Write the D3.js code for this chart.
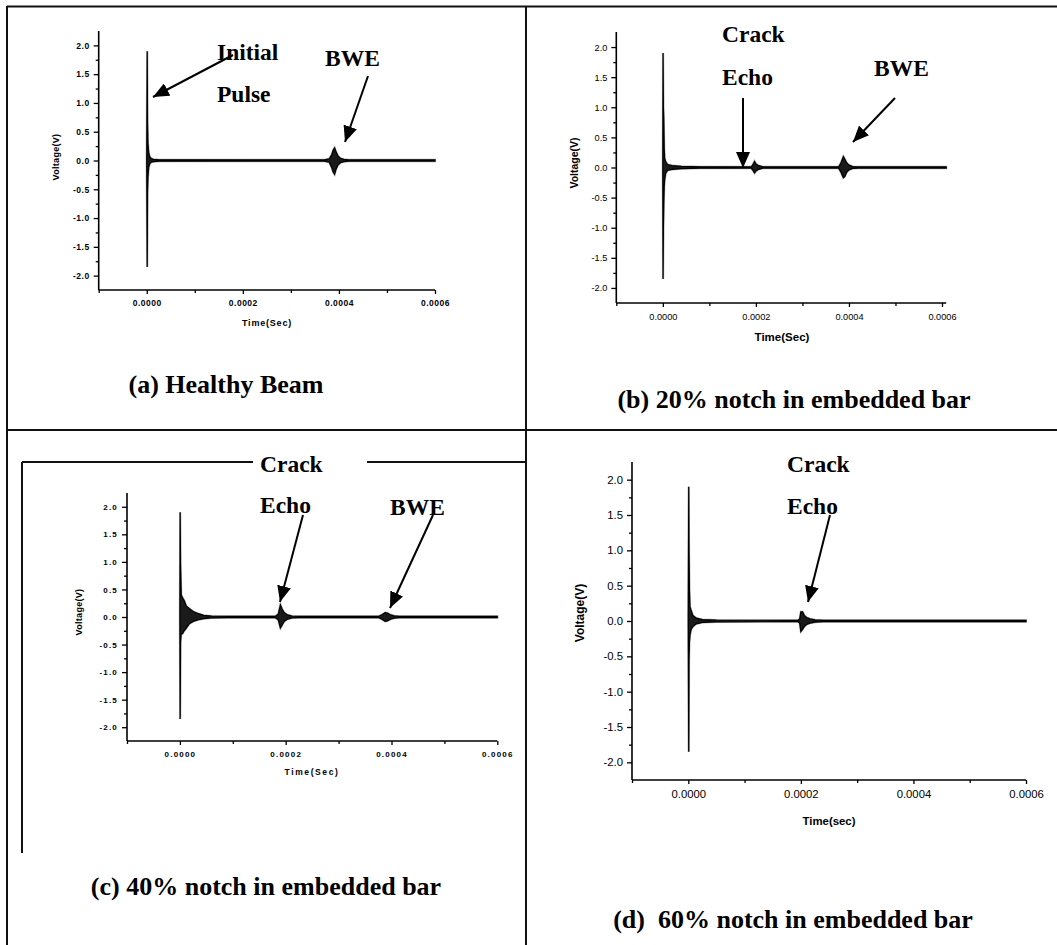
<!DOCTYPE html>
<html>
<head>
<meta charset="utf-8">
<script src="https://cdn.jsdelivr.net/npm/d3@7"></script>
<style>
body { margin: 0; background: #fff; }
</style>
</head>
<body>
<div id="chart"></div>
<script>
// tick values and labels shared by the four scope traces
var xMajor = [0, 0.0002, 0.0004, 0.0006];
var xMajorLabels = ["0.0000", "0.0002", "0.0004", "0.0006"];
var xMinor = [-0.0001, 0.0001, 0.0003, 0.0005];
var yMajor = [-2.0, -1.5, -1.0, -0.5, 0.0, 0.5, 1.0, 1.5, 2.0];
var yMajorLabels = ["-2.0", "-1.5", "-1.0", "-0.5", "0.0", "0.5", "1.0", "1.5", "2.0"];
var yMinor = [-1.75, -1.25, -0.75, -0.25, 0.25, 0.75, 1.25, 1.75];

// waveform envelopes: [time (microseconds), upper V, lower V]
var healthy = [
	[0, 0, 0], [1, 1.9, -1.85], [1.6, 0.65, -0.55], [2.5, 0.3, -0.3], [4, 0.14, -0.12],
	[6, 0.07, -0.06], [9, 0.035, -0.03], [14, 0.02, -0.02], [25, 0.012, -0.012],
	[370, 0.01, -0.01], [380, 0.03, -0.03], [385, 0.1, -0.12], [388, 0.18, -0.2],
	[391, 0.22, -0.24], [394, 0.15, -0.15], [398, 0.08, -0.08], [403, 0.04, -0.04],
	[410, 0.02, -0.02], [420, 0.01, -0.01], [600, 0.01, -0.01]
];
var notch20 = [
	[0, 0, 0], [0.5, 1.9, -1.85], [1.2, 1.0, -1.0], [2, 0.8, -0.6], [3, 0.3, -0.3],
	[4, 0.15, -0.2], [6, 0.1, -0.1], [10, 0.05, -0.05], [20, 0.03, -0.03],
	[40, 0.02, -0.02], [80, 0.012, -0.012], [190, 0.01, -0.01], [194, 0.05, -0.05],
	[197, 0.1, -0.09], [200, 0.06, -0.06], [206, 0.03, -0.03], [215, 0.01, -0.01],
	[378, 0.01, -0.01], [383, 0.08, -0.08], [388, 0.18, -0.17], [391, 0.14, -0.15],
	[395, 0.08, -0.08], [400, 0.04, -0.04], [408, 0.015, -0.015], [420, 0.01, -0.01],
	[609, 0.01, -0.01]
];
var notch40 = [
	[0, 0, 0], [0.5, 1.9, -1.85], [1.2, 0.95, -0.45], [2.5, 0.4, -0.3], [5, 0.35, -0.3],
	[8, 0.3, -0.25], [12, 0.2, -0.2], [18, 0.15, -0.12], [25, 0.1, -0.08],
	[35, 0.06, -0.05], [45, 0.03, -0.03], [60, 0.015, -0.015], [90, 0.01, -0.01],
	[180, 0.01, -0.01], [186, 0.05, -0.05], [190, 0.22, -0.2], [193, 0.15, -0.15],
	[197, 0.08, -0.08], [203, 0.04, -0.04], [212, 0.015, -0.015], [225, 0.01, -0.01],
	[375, 0.01, -0.01], [382, 0.04, -0.04], [388, 0.08, -0.08], [392, 0.07, -0.07],
	[398, 0.04, -0.04], [405, 0.02, -0.02], [415, 0.01, -0.01], [600, 0.01, -0.01]
];
var notch60 = [
	[0, 0, 0], [0.8, 1.9, -1.85], [1.3, 1.0, -0.55], [2, 0.45, -0.3], [3, 0.2, -0.2],
	[5, 0.15, -0.12], [8, 0.08, -0.08], [14, 0.04, -0.04], [25, 0.02, -0.02],
	[50, 0.012, -0.012], [195, 0.01, -0.01], [198, 0.03, -0.03], [200, 0.13, -0.15],
	[203, 0.13, -0.12], [206, 0.08, -0.08], [210, 0.05, -0.05], [216, 0.03, -0.03],
	[225, 0.015, -0.015], [240, 0.01, -0.01], [600, 0.01, -0.01]
];

var titles = ["(a) Healthy Beam", "(b) 20% notch in embedded bar",
	"(c) 40% notch in embedded bar", "(d)  60% notch in embedded bar"];

// page layout of each scanned panel
var panels = [
	{ data: healthy, title: titles[0], left: 98.7, right: 435, xMax: 0.0006, top: 31, bottom: 290,
		tick: { size: 8.5, weight: "bold", spacing: 0.5 },
		ylab: { x: 56, y: 157, size: 9, spacing: 0.3 }, xlab: { text: "Time(Sec)", x: 267, y: 326, size: 9, spacing: 0.8 },
		titlePos: [226, 393],
		notes: [["Initial", 217, 60], ["Pulse", 217, 102], ["BWE", 325, 66]],
		arrows: [[233, 55, 153, 97], [368, 76, 345, 142]] },
	{ data: notch20, title: titles[1], left: 616.3, right: 942, xMax: 0.000609, top: 32, bottom: 303,
		tick: { size: 9.2, weight: "normal", spacing: 0 },
		ylab: { x: 574, y: 163, size: 10.5, spacing: 0 }, xlab: { text: "Time(Sec)", x: 782, y: 341, size: 11.5, spacing: 0 },
		titlePos: [794, 408],
		notes: [["Crack", 722, 42], ["Echo", 722, 85], ["BWE", 874, 76]],
		arrows: [[743, 98, 743, 168], [895, 98, 853, 142]] },
	{ data: notch40, title: titles[2], left: 127, right: 497.3, xMax: 0.0006, top: 493, bottom: 741,
		tick: { size: 8, weight: "bold", spacing: 1.2 },
		ylab: { x: 79, y: 612, size: 9, spacing: 0.3 }, xlab: { text: "Time(Sec)", x: 312, y: 775, size: 8.5, spacing: 1.6 },
		titlePos: [266, 895],
		notes: [["Crack", 260, 472], ["Echo", 260, 513], ["BWE", 390, 515]],
		arrows: [[303, 515, 280, 602], [433, 515, 390, 608]] },
	{ data: notch60, title: titles[3], left: 632, right: 1026, xMax: 0.0006, top: 462, bottom: 780,
		tick: { size: 11.3, weight: "normal", spacing: 0 },
		ylab: { x: 580, y: 613, size: 12, spacing: 0 }, xlab: { text: "Time(sec)", x: 829, y: 825, size: 11.4, spacing: 0 },
		titlePos: [793, 928],
		notes: [["Crack", 787, 472], ["Echo", 787, 514]],
		arrows: [[830, 515, 808, 602]] }
];

var width = 1057, height = 945;
var sans = "'Liberation Sans', Arial, sans-serif";
var serif = "'Liberation Serif', 'Times New Roman', serif";

var svg = d3.select("#chart").append("svg")
	.attr("width", width)
	.attr("height", height);

svg.append("defs").append("marker")
	.attr("id", "head")
	.attr("markerUnits", "userSpaceOnUse")
	.attr("viewBox", "0 0 16 14")
	.attr("refX", 16)
	.attr("refY", 7)
	.attr("markerWidth", 16)
	.attr("markerHeight", 14)
	.attr("orient", "auto")
	.append("path")
		.attr("d", "M0,0 L16,7 L0,14 Z")
		.attr("fill", "#000");

// frame of the scanned table
var frame = [
	[7, 6, 7, 945], [7, 6.5, 1057, 6.5], [7, 430, 1057, 430], [526, 6, 526, 945],
	[22, 462, 253, 462], [367, 462, 526, 462], [22, 462, 22, 853]
];
svg.append("g").selectAll("line")
	.data(frame)
	.enter().append("line")
		.attr("x1", function(d) { return d[0]; })
		.attr("y1", function(d) { return d[1]; })
		.attr("x2", function(d) { return d[2]; })
		.attr("y2", function(d) { return d[3]; })
		.attr("stroke", "#111")
		.attr("stroke-width", 2);

panels.forEach(function(p) {
	var g = svg.append("g");

	var x = d3.scaleLinear()
		.domain([-0.0001, 0.0006])
		.range([p.left, p.right]);
	var xEnd = x(p.xMax);
	var y = d3.scaleLinear()
		.domain([-2.25, 2.25])
		.range([p.bottom, p.top]);

	// minor ticks first, then labelled ticks
	var xMinorAxis = d3.axisBottom(x).tickValues(xMinor).tickSize(3).tickSizeOuter(0).tickFormat("");
	var yMinorAxis = d3.axisLeft(y).tickValues(yMinor).tickSize(3).tickSizeOuter(0).tickFormat("");
	var xAxis = d3.axisBottom(x).tickValues(xMajor).tickSize(4).tickSizeOuter(0).tickPadding(6)
		.tickFormat(function(d, i) { return xMajorLabels[i]; });
	var yAxis = d3.axisLeft(y).tickValues(yMajor).tickSize(5).tickSizeOuter(0).tickPadding(4)
		.tickFormat(function(d, i) { return yMajorLabels[i]; });

	[xMinorAxis, xAxis].forEach(function(ax) {
		var a = g.append("g").attr("transform", "translate(0," + p.bottom + ")").call(ax);
		a.select(".domain").remove();
	});
	[yMinorAxis, yAxis].forEach(function(ax) {
		var a = g.append("g").attr("transform", "translate(" + p.left + ",0)").call(ax);
		a.select(".domain").remove();
	});
	g.selectAll(".tick line").attr("stroke", "#000").attr("stroke-width", 1.3);
	g.selectAll(".tick text")
		.attr("fill", "#000")
		.style("font-family", sans)
		.style("font-size", p.tick.size + "px")
		.style("font-weight", p.tick.weight)
		.style("letter-spacing", p.tick.spacing + "px");

	// axis lines
	g.append("line")
		.attr("x1", p.left).attr("y1", p.top)
		.attr("x2", p.left).attr("y2", p.bottom)
		.attr("stroke", "#000").attr("stroke-width", 1.6);
	g.append("line")
		.attr("x1", p.left).attr("y1", p.bottom)
		.attr("x2", xEnd).attr("y2", p.bottom)
		.attr("stroke", "#000").attr("stroke-width", 1.6);

	g.append("text")
		.attr("transform", "translate(" + p.ylab.x + "," + p.ylab.y + ") rotate(-90)")
		.attr("dy", "0.35em")
		.attr("text-anchor", "middle")
		.style("font-family", sans)
		.style("font-size", p.ylab.size + "px")
		.style("font-weight", "bold")
		.style("letter-spacing", p.ylab.spacing + "px")
		.text("Voltage(V)");
	g.append("text")
		.attr("x", p.xlab.x)
		.attr("y", p.xlab.y)
		.attr("text-anchor", "middle")
		.style("font-family", sans)
		.style("font-size", p.xlab.size + "px")
		.style("font-weight", "bold")
		.style("letter-spacing", p.xlab.spacing + "px")
		.text(p.xlab.text);

	// the trace, as a min/max envelope
	var area = d3.area()
		.x(function(d) { return x(d[0] / 1e6); })
		.y0(function(d) { return y(d[2]); })
		.y1(function(d) { return y(d[1]); });
	g.append("path")
		.datum(p.data)
		.attr("d", area)
		.attr("fill", "#999")
		.attr("stroke", "#aaa")
		.attr("stroke-width", 2.2);
	g.append("path")
		.datum(p.data)
		.attr("d", area)
		.attr("fill", "#1a1a1a")
		.attr("stroke", "#000")
		.attr("stroke-width", 1.2);

	// annotations
	g.selectAll(".note")
		.data(p.notes)
		.enter().append("text")
			.attr("class", "note")
			.attr("x", function(d) { return d[1]; })
			.attr("y", function(d) { return d[2]; })
			.style("font-family", serif)
			.style("font-size", "23.5px")
			.style("font-weight", "bold")
			.text(function(d) { return d[0]; });
	g.selectAll(".arrow")
		.data(p.arrows)
		.enter().append("line")
			.attr("class", "arrow")
			.attr("x1", function(d) { return d[0]; })
			.attr("y1", function(d) { return d[1]; })
			.attr("x2", function(d) { return d[2]; })
			.attr("y2", function(d) { return d[3]; })
			.attr("stroke", "#000")
			.attr("stroke-width", 2)
			.attr("marker-end", "url(#head)");

	g.append("text")
		.attr("x", p.titlePos[0])
		.attr("y", p.titlePos[1])
		.attr("text-anchor", "middle")
		.style("white-space", "pre")
		.style("font-family", serif)
		.style("font-size", "26px")
		.style("font-weight", "bold")
		.text(p.title);
});
</script>
</body>
</html>
